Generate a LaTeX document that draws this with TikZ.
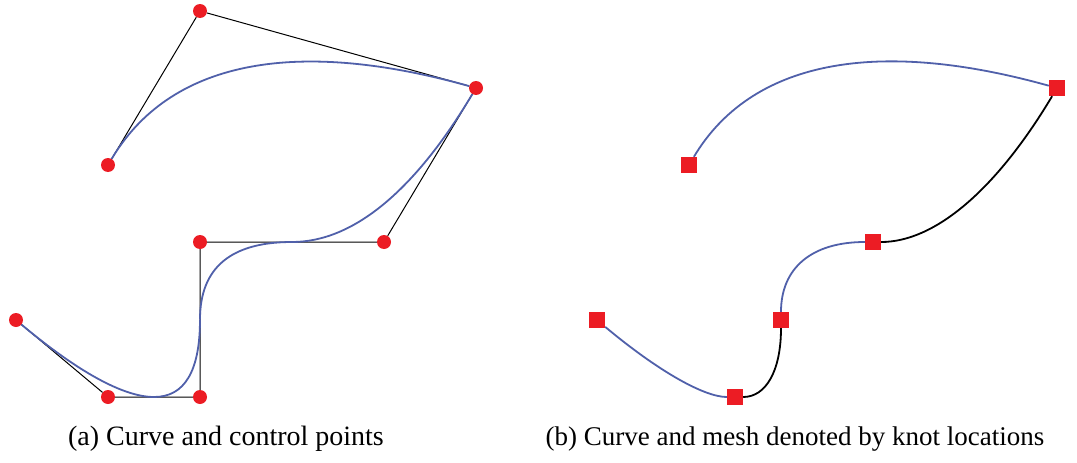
\documentclass[tikz,border=0pt]{standalone}
\usepackage{fontspec}
\setmainfont{Liberation Serif}
\usetikzlibrary{calc,positioning}
\definecolor{curveblue}{RGB}{80,96,170}
\definecolor{dotred}{RGB}{236,28,36}
\tikzset{ctrl/.style={circle,fill=dotred,inner sep=0pt,minimum size=14pt},
	knot/.style={rectangle,fill=dotred,inner sep=0pt,minimum size=16pt},
	hull/.style={draw=black,line width=1pt},
	bspline/.style={draw=curveblue,line width=1.8pt},
	bsplineblk/.style={draw=black,line width=1.8pt},
	caption/.style={font=\fontsize{28}{30}\selectfont}}
% quadratic piece: style, start, control, end
\newcommand{\qseg}[4]{\draw[#1] (#2) .. controls ($(#2)!2/3!(#3)$) and ($(#4)!2/3!(#3)$) .. (#4);}

\begin{document}
\begin{tikzpicture}[x=1pt, y=-1pt]
\useasboundingbox (0,0) rectangle (1077,463);
% (a) control points
\node[ctrl] (p0) at (16,320) {};
\node[ctrl] (p1) at (108,397) {};
\node[ctrl] (p2) at (200,397) {};
\node[ctrl] (p3) at (200,242) {};
\node[ctrl] (p4) at (384,242) {};
\node[ctrl] (p5) at (476,88) {};
\node[ctrl] (p6) at (200,11) {};
\node[ctrl] (p7) at (108,165) {};
\coordinate (m12) at ($(p1)!0.5!(p2)$);
\coordinate (m23) at ($(p2)!0.5!(p3)$);
\coordinate (m34) at ($(p3)!0.5!(p4)$);
\draw[hull] (p0) -- (p1) -- (p2) -- (p3) -- (p4) -- (p5) -- (p6) -- (p7);
\qseg{bspline}{p0}{p1}{m12}
\qseg{bspline}{m12}{p2}{m23}
\qseg{bspline}{m23}{p3}{m34}
\qseg{bspline}{m34}{p4}{p5}
\qseg{bspline}{p5}{p6}{p7}
\node[caption] (capa) at (226,439) {(a) Curve and control points};

% (b) knots
\begin{scope}[xshift=581pt]
\node[knot] (k0) at (16,320) {};
\node[knot] (k1) at (154,397) {};
\node[knot] (k2) at (200,320) {};
\node[knot] (k3) at (292,242) {};
\node[knot] (k4) at (476,88) {};
\node[knot] (k5) at (108,165) {};
\coordinate (q1) at (108,397);
\coordinate (q2) at (200,397);
\coordinate (q3) at (200,242);
\coordinate (q4) at (384,242);
\coordinate (q6) at (200,11);
\end{scope}
\qseg{bspline}{k0}{q1}{k1}
\qseg{bsplineblk}{k1}{q2}{k2}
\qseg{bspline}{k2}{q3}{k3}
\qseg{bsplineblk}{k3}{q4}{k4}
\qseg{bspline}{k4}{q6}{k5}
\node[caption, font=\fontsize{27}{30}\selectfont] (capb) at (795,439) {(b) Curve and mesh denoted by knot locations};
\end{tikzpicture}
\end{document}
